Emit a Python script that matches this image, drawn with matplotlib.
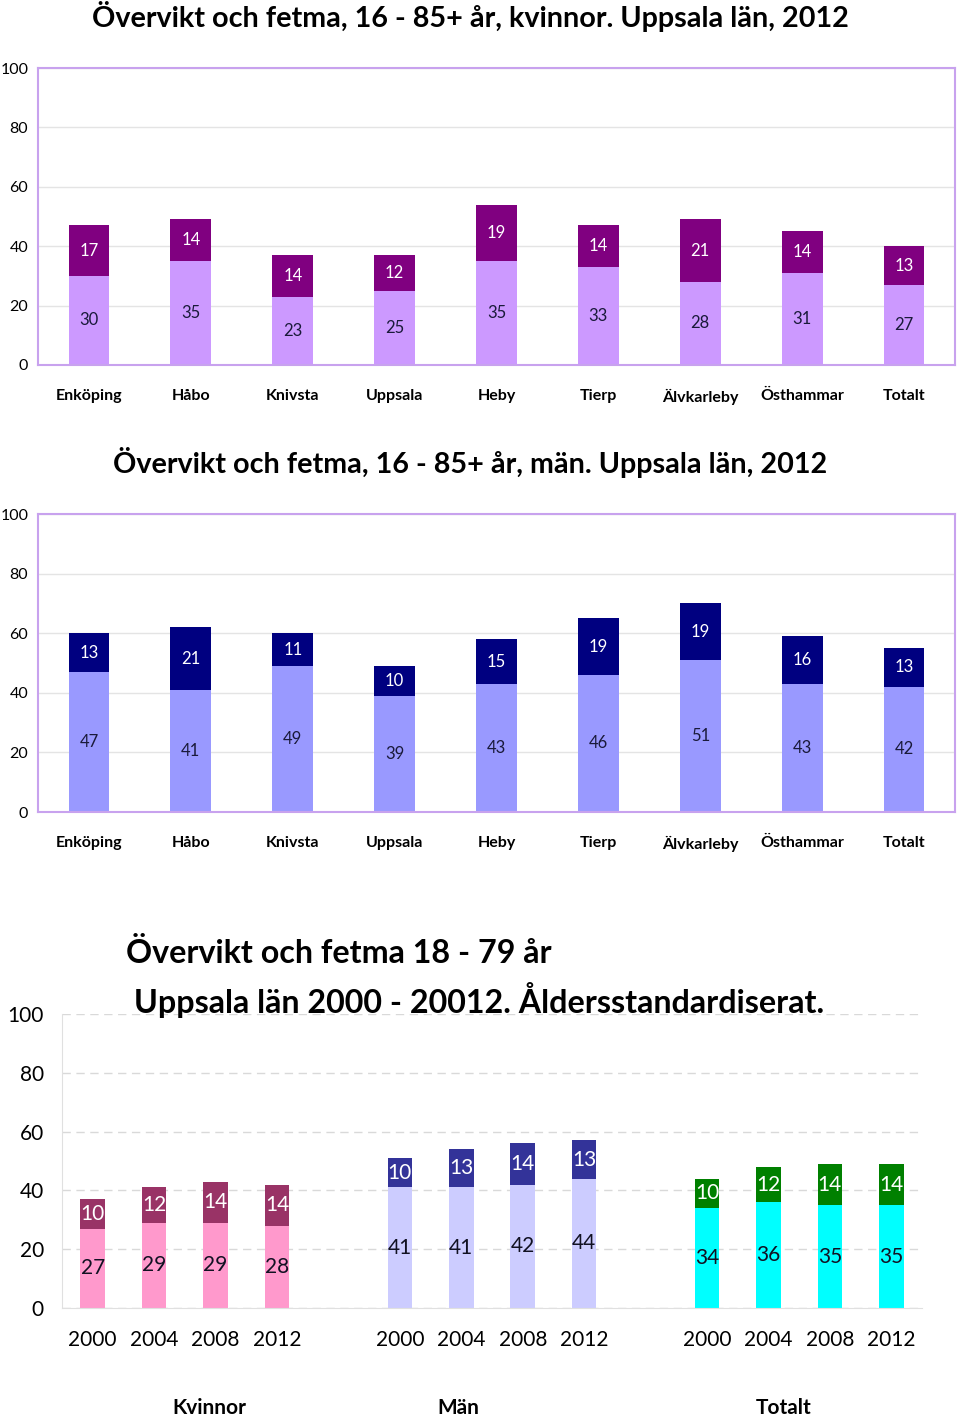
import matplotlib.pyplot as plt
from matplotlib.transforms import blended_transform_factory

plt.rcParams['font.family'] = ['Lato', 'DejaVu Sans']

# Diagram 1 och 2: kommuner
kommuner = ["Enköping", "Håbo", "Knivsta", "Uppsala", "Heby", "Tierp",
            "Älvkarleby", "Östhammar", "Totalt"]
kv_overvikt = [30, 35, 23, 25, 35, 33, 28, 31, 27]
kv_fetma = [17, 14, 14, 12, 19, 14, 21, 14, 13]
man_overvikt = [47, 41, 49, 39, 43, 46, 51, 43, 42]
man_fetma = [13, 21, 11, 10, 15, 19, 19, 16, 13]

# Diagram 3: tidsserie
ar = ["2000", "2004", "2008", "2012"]
grupper = ["Kvinnor", "Män", "Totalt"]
tid_overvikt = [[27, 29, 29, 28], [41, 41, 42, 44], [34, 36, 35, 35]]
tid_fetma = [[10, 12, 14, 14], [10, 13, 14, 13], [10, 12, 14, 14]]
grupp_farger = [("#ff99cc", "#993366"), ("#ccccff", "#333399"), ("#00ffff", "#008000")]
grupp_textpos = [1.9, 5.95, 11.25]

W, H = 960, 1417
fig = plt.figure(figsize=(W / 100, H / 100), dpi=100)


def kommun_diagram(rect, nedre, ovre, c_nedre, c_ovre, titel, title_y):
    ax = fig.add_axes(rect)
    x = range(len(kommuner))
    ax.bar(x, nedre, width=0.4, color=c_nedre, zorder=2)
    ax.bar(x, ovre, width=0.4, bottom=nedre, color=c_ovre, zorder=2)
    for i in x:
        ax.text(i, nedre[i] / 2, str(nedre[i]), ha="center", va="center",
                fontsize=12, color="#1a1a3a")
        ax.text(i, nedre[i] + ovre[i] / 2, str(ovre[i]), ha="center", va="center",
                fontsize=12, color="white")
    ax.set_xlim(-0.5, len(kommuner) - 0.5)
    ax.set_ylim(0, 100)
    ax.set_yticks(range(0, 101, 20))
    ax.set_xticks(list(x))
    ax.set_xticklabels(kommuner, fontweight="bold", fontsize=12)
    ax.tick_params(axis="both", length=0, labelsize=11.5)
    ax.tick_params(axis="x", pad=17)
    ax.tick_params(axis="y", pad=7)
    ax.grid(axis="y", color="#e4e4e4", linewidth=1, zorder=0)
    for s in ax.spines.values():
        s.set_color("#c8a2ee")
        s.set_linewidth(1.5)
    fig.text(0.49, title_y, titel, ha="center", va="center",
             fontsize=20.7, fontweight="bold")
    return ax


kommun_diagram([38 / W, 1 - 365 / H, 917 / W, 297 / H], kv_overvikt, kv_fetma,
               "#cc99ff", "#800080",
               "Övervikt och fetma, 16 - 85+ år, kvinnor. Uppsala län, 2012",
               1 - 16 / H)
kommun_diagram([38 / W, 1 - 812 / H, 917 / W, 298 / H], man_overvikt, man_fetma,
               "#9999ff", "#000080",
               "Övervikt och fetma, 16 - 85+ år, män. Uppsala län, 2012",
               1 - 462 / H)

# Diagram 3
ax3 = fig.add_axes([62 / W, 1 - 1308 / H, 860 / W, 294 / H])
pos = []
for g in range(len(grupper)):
    xs = [g * 5 + k for k in range(len(ar))]
    pos += xs
    c_nedre, c_ovre = grupp_farger[g]
    ax3.bar(xs, tid_overvikt[g], width=0.4, color=c_nedre, zorder=2)
    ax3.bar(xs, tid_fetma[g], width=0.4, bottom=tid_overvikt[g], color=c_ovre, zorder=2)
    for k, xv in enumerate(xs):
        a, b = tid_overvikt[g][k], tid_fetma[g][k]
        ax3.text(xv, a / 2, str(a), ha="center", va="center", fontsize=15, color="#111122")
        ax3.text(xv, a + b / 2, str(b), ha="center", va="center", fontsize=15, color="white")
ax3.set_xlim(-0.5, 13.5)
ax3.set_ylim(0, 100)
ax3.set_yticks(range(0, 101, 20))
ax3.set_xticks(pos)
ax3.set_xticklabels(ar * len(grupper), fontsize=15)
ax3.tick_params(axis="both", length=0, labelsize=15)
ax3.tick_params(axis="x", pad=16)
ax3.tick_params(axis="y", pad=13)
ax3.grid(axis="y", color="#d9d9d9", linestyle=(0, (6, 4)), linewidth=1, zorder=0)
for side in ["top", "right"]:
    ax3.spines[side].set_visible(False)
for side in ["left", "bottom"]:
    ax3.spines[side].set_color("#e0e0e0")
tr = blended_transform_factory(ax3.transData, fig.transFigure)
for g, namn in enumerate(grupper):
    ax3.text(grupp_textpos[g], 1 - 1408 / H, namn, transform=tr, ha="center",
             va="center", fontsize=15, fontweight="bold")
fig.text(126 / W, 1 - 953 / H, "Övervikt och fetma 18 - 79 år", ha="left",
         va="center", fontsize=23.2, fontweight="bold")
fig.text(134 / W, 1 - 1000 / H, "Uppsala län 2000 - 20012. Åldersstandardiserat.",
         ha="left", va="center", fontsize=23.2, fontweight="bold")

fig.savefig("out.png", dpi=100)
